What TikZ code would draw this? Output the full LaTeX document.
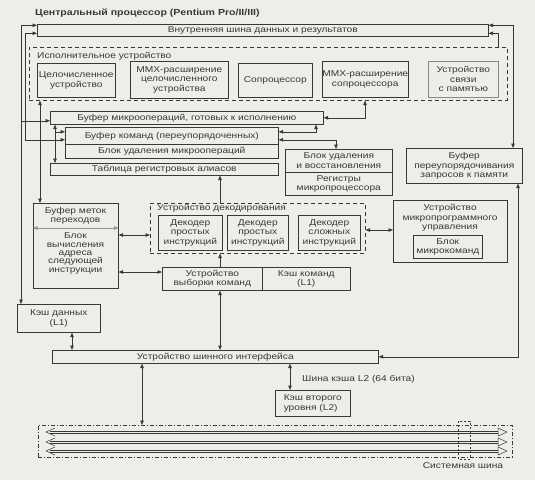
\documentclass[tikz,border=0pt]{standalone}
\usepackage{fontspec}
\setmainfont{Liberation Sans}[FakeStretch=1.2]
\usetikzlibrary{arrows.meta}
\usetikzlibrary{calc}

\definecolor{ink}{gray}{0.22}
\definecolor{paper}{RGB}{238,237,232}

\tikzset{
  blk/.style={draw=ink, line width=0.6pt, inner sep=0pt, align=center, anchor=north west,
    font=\fontsize{8.5}{9.5}\selectfont, text=ink},
  grp/.style={draw=ink, line width=0.6pt, dash pattern=on 4pt off 3pt, inner sep=0pt, anchor=north west},
  lbl/.style={inner sep=0pt, align=center, font=\fontsize{8.5}{9.5}\selectfont, text=ink},
  link/.style={draw=ink, line width=0.6pt, -{Triangle[length=4.5pt,width=3.5pt]}},
  both/.style={link, {Triangle[length=4.5pt,width=3.5pt]}-{Triangle[length=4.5pt,width=3.5pt]}},
  busline/.style={draw=ink, line width=0.5pt}
}

\begin{document}
\begin{tikzpicture}[x=1pt,y=-1pt]

\fill[paper] (0,0) rectangle (535,480);
\useasboundingbox (0,0) rectangle (535,480);

\node[lbl, anchor=west, font=\fontsize{8.8}{9.5}\selectfont\bfseries] (title) at (35,13) {Центральный процессор (Pentium Pro/II/III)};

% internal bus
\node[blk, minimum width=451, minimum height=12] (bus) at (37,24) {Внутренняя шина данных и результатов};

% execution unit
\node[grp, minimum width=478, minimum height=53] (exec) at (29,47) {};
\node[lbl, anchor=west] (execlbl) at (37,56) {Исполнительное устройство};
\node[blk, minimum width=78, minimum height=34] (intu) at (37,63) {Целочисленное\\устройство};
\node[blk, minimum width=98, minimum height=37] (mmxi) at (130,61) {MMX-расширение\\целочисленного\\устройства};
\node[blk, minimum width=74, minimum height=34] (copr) at (238,63) {Сопроцессор};
\node[blk, minimum width=76, minimum height=36] (mmxc) at (322,61) {MMX-расширение\\сопроцессора};
\node[blk, minimum width=70, minimum height=36, draw=ink!60] (memlink) at (428,61) {Устройство\\связи\\с памятью};

% buffers
\node[blk, minimum width=273, minimum height=13] (mopbuf) at (50,111) {Буфер микроопераций, готовых к исполнению};
\node[blk, minimum width=213, minimum height=17] (rob) at (65,127) {Буфер команд (переупорядоченных)};
\node[blk, minimum width=213, minimum height=14] (retire) at (65,144) {Блок удаления микроопераций};
\node[blk, minimum width=228, minimum height=12] (rat) at (50,163) {Таблица регистровых алиасов};
\node[blk, minimum width=107, minimum height=23] (rru) at (285,149) {Блок удаления\\и восстановления};
\node[blk, minimum width=107, minimum height=23] (regs) at (285,172) {Регистры\\микропроцессора};
\node[blk, minimum width=116, minimum height=35] (mob) at (406,148) {Буфер\\переупорядочивания\\запросов к памяти};

% branch target buffer
\node[blk, minimum width=85, minimum height=85] (btb) at (33,203) {};
\node[lbl] (btbtop) at (75.5,216) {Буфер меток\\переходов};
\node[lbl, font=\fontsize{8.5}{8.4}\selectfont] (nia) at (75.5,253.5) {Блок\\вычисления\\адреса\\следующей\\инструкции};
\draw[both, draw=ink!55] (btb.west |- 0,228) -- (btb.east |- 0,228);

% decoding unit
\node[grp, minimum width=215, minimum height=50] (dec) at (150,203) {};
\node[lbl, anchor=west] (declbl) at (157,208) {Устройство декодирования};
\node[blk, minimum width=64, minimum height=35] (dec1) at (158,215) {Декодер\\простых\\инструкций};
\node[blk, minimum width=61, minimum height=35] (dec2) at (227,215) {Декодер\\простых\\инструкций};
\node[blk, minimum width=62, minimum height=35] (dec3) at (298,215) {Декодер\\сложных\\инструкций};

\node[blk, minimum width=100, minimum height=23] (fetch) at (162,267) {Устройство\\выборки команд};
\node[blk, minimum width=88, minimum height=23] (icache) at (262,267) {Кэш команд\\(L1)};

% microcode
\node[blk, minimum width=114, minimum height=62] (mcu) at (393,200) {};
\node[lbl] (mculbl) at (450,218) {Устройство\\микропрограммного\\управления};
\node[blk, minimum width=69, minimum height=23] (ucode) at (413,235) {Блок\\микрокоманд};

% caches and bus interface
\node[blk, minimum width=83, minimum height=28] (dcache) at (17,304) {Кэш данных\\(L1)};
\node[blk, minimum width=326, minimum height=13] (biu) at (52,350) {Устройство шинного интерфейса};
\node[blk, minimum width=75, minimum height=26, align=left] (l2) at (275,390) {Кэш второго\\уровня (L2)};
\node[lbl, anchor=west] (l2bus) at (302,379) {Шина кэша L2 (64 бита)};

% system bus
\node[grp, dash pattern=on 4pt off 2pt on 1pt off 2pt, minimum width=474, minimum height=32] (sysbus) at (38,425) {};
\foreach \r in {432,442,451} {
  \draw[busline] (50,\r-1.2) -- (500,\r-1.2);
  \draw[busline] (50,\r+1.2) -- (500,\r+1.2);
  \draw[busline] (55,\r-4) -- (46,\r) -- (55,\r+4);
  \draw[busline, fill=paper] (498,\r-4) -- (507,\r) -- (498,\r+4) -- cycle;
}
\draw[ink, line width=0.5pt, dash pattern=on 2pt off 2pt] (458,421) rectangle (470,459);
\node[lbl] (sysbuslbl) at (463,466) {Системная шина};

% columns and rows for the connectors
\coordinate (railA) at (21,0);
\coordinate (railB) at (25,0);
\coordinate (colE) at (40,0);
\coordinate (colM) at (55,0);
\coordinate (colC) at (72,0);
\coordinate (colS) at (142,0);
\coordinate (colF) at (220,0);
\coordinate (colL) at (290,0);
\coordinate (colR) at (316,0);
\coordinate (colD) at (336,0);
\coordinate (colX) at (365,0);
\coordinate (colT) at (498,0);
\coordinate (colV) at (513,0);
\coordinate (colW) at (518,0);
\coordinate (rowR) at (0,230);
\coordinate (rowP) at (0,235);
\coordinate (rowQ) at (0,272);

\coordinate (busA) at ([yshift=5pt]bus.west);
\coordinate (busB) at ([yshift=-3pt]bus.west);
\coordinate (busC) at ([yshift=5pt]bus.east);
\coordinate (busD) at ([yshift=-3pt]bus.east);
\coordinate (mopA) at ([yshift=-3pt]mopbuf.west);
\coordinate (robA) at ([yshift=4pt]rob.west);
\coordinate (robB) at ([yshift=-4pt]rob.west);
\coordinate (robC) at ([yshift=4pt]rob.east);
\coordinate (robD) at ([yshift=-4pt]rob.east);

% connectors
\draw[both] (busA) -| (dcache.north -| railA);
\draw[link] (railA |- mopA) -- (mopA);
\draw[both] (busB) -| (railB |- robB) -- (robB);
\draw[both] (exec.south -| colE) -- (btb.north -| colE);
\draw[both] (mopbuf.south -| colM) -- (rat.north -| colM);
\draw[link] (colM |- robA) -- (robA);
\draw[both] (robC) -| (mopbuf.south -| colR);
\draw[both] (robD) -| (rru.north -| colD);
\draw[both] (mopbuf.east) -| (exec.south -| colX);
\draw[link] (exec.north -| colT) |- (busD);
\draw[both] (busC) -| (mob.north -| colV);
\draw[both] (mob.south -| colW) |- (biu.east);
\draw[link] (dec.north -| colF) -- (rat.south -| colF);
\draw[link] (fetch.north -| colF) -- (dec.south -| colF);
\draw[both] (biu.north -| colF) -- (fetch.south -| colF);
\draw[both] (btb.east |- rowP) -- (dec.west |- rowP);
\draw[both] (btb.east |- rowQ) -- (fetch.west |- rowQ);
\draw[both] (dec.east |- rowR) -- (mcu.west |- rowR);
\draw[both] (dcache.south -| colC) -- (biu.north -| colC);
\draw[both] (biu.south -| colL) -- (l2.north -| colL);
\draw[both] (biu.south -| colS) -- (sysbus.north -| colS);

\end{tikzpicture}
\end{document}
